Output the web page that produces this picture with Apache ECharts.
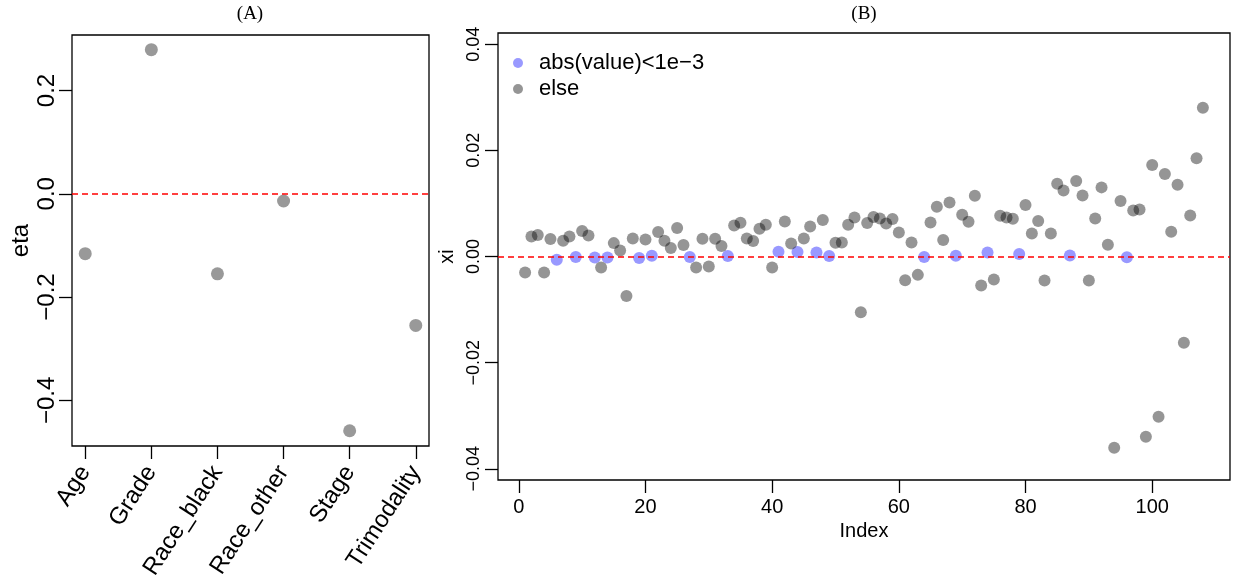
<!DOCTYPE html>
<html>
<head>
<meta charset="utf-8">
<script src="https://cdn.jsdelivr.net/npm/echarts@6/dist/echarts.min.js"></script>
<style>
  html, body { margin: 0; padding: 0; background: #fff; }
  #chart { width: 1238px; height: 578px; }
</style>
</head>
<body>
<div id="chart"></div>
<script>
// ---------- Panel A data ----------
const etaCategories = ['Age', 'Grade', 'Race_black', 'Race_other', 'Stage', 'Trimodality'];
const etaValues = [-0.116, 0.279, -0.155, -0.014, -0.459, -0.255];
const etaTicks = [-0.4, -0.2, 0, 0.2];

// ---------- Panel B data (xi by index 1..108) ----------
const xiValues = [
  -0.00302, 0.00377, 0.00403, -0.00302, 0.00328, -0.00062, 0.00296, 0.00377, -0.0001, 0.00479,
  0.00396, -0.0002, -0.00208, -0.0002, 0.00252, 0.00113, -0.00742, 0.0034, -0.0003, 0.0032,
  0.00013, 0.0046, 0.00296, 0.00158, 0.00536, 0.00215, -0.0001, -0.00208, 0.00334, -0.00189,
  0.00334, 0.00196, 0.00008, 0.00585, 0.00636, 0.0034, 0.0029, 0.00523, 0.00598, -0.00208,
  0.00089, 0.0066, 0.00245, 0.00083, 0.0034, 0.00566, 0.00076, 0.00687, 0.00008, 0.00258,
  0.00264, 0.00598, 0.00736, -0.0105, 0.0063, 0.00743, 0.00717, 0.00623, 0.00705, 0.00453,
  -0.00446, 0.00264, -0.00346, -0.0001, 0.00642, 0.00938, 0.00309, 0.01019, 0.00013, 0.00787,
  0.00655, 0.01145, -0.00547, 0.00076, -0.00434, 0.00768, 0.00736, 0.00711, 0.00045, 0.0097,
  0.00434, 0.00668, -0.00453, 0.00434, 0.01372, 0.01245, 0.00019, 0.01423, 0.01151, -0.00453,
  0.00717, 0.01302, 0.00221, -0.03604, 0.01045, -0.00013, 0.00868, 0.00887, -0.03396, 0.01724,
  -0.03019, 0.01555, 0.00466, 0.01353, -0.01623, 0.00774, 0.01849, 0.028
];
const xiXTicks = [0, 20, 40, 60, 80, 100];
const xiYTicks = [-0.04, -0.02, 0, 0.02, 0.04];
const legendNames = ['abs(value)<1e\u22123', 'else'];
const threshold = 1e-3;

// ---------- build ----------
const etaData = etaValues.map((v, i) => [i + 1, v]);
const smallData = [], elseData = [];
xiValues.forEach((v, i) => {
  if (Math.abs(v) < threshold) smallData.push([i + 1, v]); else elseData.push([i + 1, v]);
});

const SANS = 'Liberation Sans, Arial, Helvetica, sans-serif';
const SERIF = 'Liberation Serif, Times New Roman, serif';
const minus = s => s.replace('-', '\u2212');

const redLine = {
  silent: true, symbol: 'none', animation: false,
  label: { show: false },
  lineStyle: { color: '#ff0000', type: [6, 4], width: 1.5 },
  data: [{ yAxis: 0 }]
};
const tickStyle = { color: '#000', width: 1.3 };

const chart = echarts.init(document.getElementById('chart'), null, { renderer: 'canvas' });
chart.setOption({
  animation: false,
  backgroundColor: '#fff',
  textStyle: { fontFamily: SANS },
  graphic: [
    { type: 'text', x: 250, y: 14, style: { text: '(A)', font: '19px ' + SERIF, fill: '#000', textAlign: 'center', textVerticalAlign: 'middle' } },
    { type: 'text', x: 864, y: 14, style: { text: '(B)', font: '19px ' + SERIF, fill: '#000', textAlign: 'center', textVerticalAlign: 'middle' } }
  ],
  grid: [
    { left: 72, right: 809, top: 35, bottom: 132, containLabel: false, outerBoundsMode: 'none',
      show: true, borderColor: '#000', borderWidth: 1.3, backgroundColor: 'transparent' },
    { left: 498, right: 8, top: 33, bottom: 98, containLabel: false, outerBoundsMode: 'none',
      show: true, borderColor: '#000', borderWidth: 1.3, backgroundColor: 'transparent' }
  ],
  legend: {
    left: 508, top: 47, orient: 'vertical', itemWidth: 32, itemHeight: 10, itemGap: 4,
    icon: 'circle',
    textStyle: { fontFamily: SANS, fontSize: 22, color: '#000' },
    data: legendNames
  },
  xAxis: [
    {
      gridIndex: 0, type: 'value', min: 0.8, max: 6.2,
      axisLine: { show: false, onZero: false }, splitLine: { show: false },
      axisTick: { show: true, length: 13, inside: false, customValues: [1, 2, 3, 4, 5, 6], lineStyle: tickStyle },
      axisLabel: {
        show: true, rotate: 57, margin: 22, customValues: [1, 2, 3, 4, 5, 6],
        fontSize: 24, color: '#000', fontFamily: SANS,
        formatter: v => etaCategories[Math.round(v) - 1]
      }
    },
    {
      gridIndex: 1, type: 'value', min: -3.28, max: 112.28,
      name: 'Index', nameLocation: 'middle', nameGap: 40,
      nameTextStyle: { fontSize: 20, color: '#000', fontFamily: SANS },
      axisLine: { show: false, onZero: false }, splitLine: { show: false },
      axisTick: { show: true, length: 13, customValues: xiXTicks, lineStyle: tickStyle },
      axisLabel: { show: true, margin: 17, customValues: xiXTicks, fontSize: 20, color: '#000', fontFamily: SANS, formatter: v => String(v) }
    }
  ],
  yAxis: [
    {
      gridIndex: 0, type: 'value', min: -0.4885, max: 0.3075,
      name: 'eta', nameLocation: 'middle', nameGap: 39, nameRotate: 90,
      nameTextStyle: { fontSize: 24, color: '#000', fontFamily: SANS },
      axisLine: { show: false, onZero: false }, splitLine: { show: false },
      axisTick: { show: true, length: 13, customValues: etaTicks, lineStyle: tickStyle },
      axisLabel: { show: true, rotate: 90, margin: 13, customValues: etaTicks, fontSize: 24, color: '#000', fontFamily: SANS,
        formatter: v => minus(v.toFixed(1)) }
    },
    {
      gridIndex: 1, type: 'value', min: -0.0421, max: 0.0421,
      name: 'xi', nameLocation: 'middle', nameGap: 29, nameRotate: 90,
      nameTextStyle: { fontSize: 20, color: '#000', fontFamily: SANS },
      axisLine: { show: false, onZero: false }, splitLine: { show: false },
      axisTick: { show: true, length: 13, customValues: xiYTicks, lineStyle: tickStyle },
      axisLabel: { show: true, rotate: 90, margin: 15, customValues: xiYTicks, fontSize: 18, color: '#000', fontFamily: SANS,
        formatter: v => minus(v.toFixed(2)) }
    }
  ],
  series: [
    {
      type: 'scatter', xAxisIndex: 0, yAxisIndex: 0, data: etaData,
      symbol: 'circle', symbolSize: 13,
      itemStyle: { color: '#808080' },
      markLine: redLine
    },
    {
      name: legendNames[0], type: 'scatter', xAxisIndex: 1, yAxisIndex: 1, data: smallData,
      symbol: 'circle', symbolSize: 12,
      itemStyle: { color: 'rgba(0,0,255,0.5)' },
      markLine: redLine
    },
    {
      name: legendNames[1], type: 'scatter', xAxisIndex: 1, yAxisIndex: 1, data: elseData,
      symbol: 'circle', symbolSize: 12,
      itemStyle: { color: 'rgba(0,0,0,0.52)' }
    }
  ]
});
</script>
</body>
</html>
